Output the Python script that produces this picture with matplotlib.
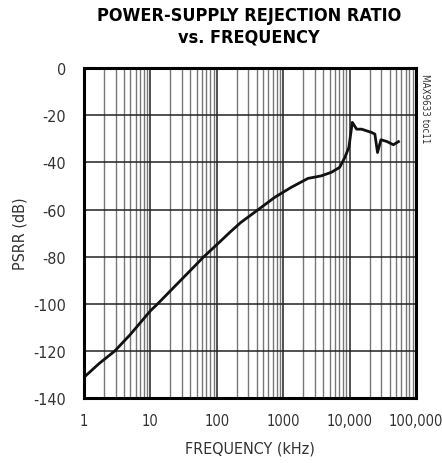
import matplotlib
matplotlib.use("Agg")
import matplotlib.pyplot as plt
from matplotlib.ticker import FixedLocator, NullFormatter

plt.rcParams['font.family'] = ['DejaVu Sans']
plt.rcParams['font.stretch'] = 'condensed'
plt.rcParams['axes.unicode_minus'] = False

# PSRR curve
freq_khz = [1.0, 1.7, 2.92, 5, 10, 12.9, 64, 102, 160, 230, 423, 740, 1320, 2360,
            3770, 5330, 7100, 8500, 9780, 11000, 12800, 15200, 21500, 24100,
            26400, 29700, 36300, 45700, 54600]
psrr_db = [-131.2, -125.3, -120, -113, -103, -100, -80, -74.7, -69.5, -65.5, -60,
           -54.9, -50.6, -46.8, -45.7, -44.2, -42.1, -37.9, -33.6, -23.0, -25.9,
           -25.9, -27.3, -28.0, -35.8, -30.4, -31.1, -32.5, -31.2]

x_ticks = [1, 10, 100, 1000, 10000, 100000]
x_labels = ["1", "10", "100", "1000", "10,000", "100,000"]
y_ticks = [0, -20, -40, -60, -80, -100, -120, -140]

fig = plt.figure(figsize=(4.42, 4.64), dpi=100)
ax = fig.add_axes([0.190, 0.140, 0.751, 0.711])

ax.set_xscale("log")
ax.set_xlim(1, 100000)
ax.set_ylim(-140, 0)

# grid: dark decades and 20 dB lines, grey minor lines
minor = [m * 10 ** d for d in range(5) for m in range(2, 10)]
ax.xaxis.set_major_locator(FixedLocator(x_ticks))
ax.xaxis.set_minor_locator(FixedLocator(minor))
ax.xaxis.set_minor_formatter(NullFormatter())
ax.set_xticklabels(x_labels)
ax.set_yticks(y_ticks)
ax.grid(True, which="major", color="#222222", linewidth=1.1)
ax.grid(True, which="minor", axis="x", color="#777777", linewidth=1.0)
ax.tick_params(which="both", length=0)
ax.tick_params(axis="x", labelsize=10.5, pad=11, colors="#333333")
ax.tick_params(axis="y", labelsize=11.5, pad=13, colors="#333333")

ax.plot(freq_khz, psrr_db, color="#111111", linewidth=2.0)

for s in ax.spines.values():
    s.set_linewidth(2.2)

ax.set_xlabel("FREQUENCY (kHz)", fontsize=11.5, labelpad=9, color="#333333")
ax.set_ylabel("PSRR (dB)", fontsize=11.5, labelpad=4, color="#333333")

fig.text(0.563, 0.985, "POWER-SUPPLY REJECTION RATIO\nvs. FREQUENCY",
         ha="center", va="top", fontsize=13, fontweight="bold", linespacing=1.25)
fig.text(0.962, 0.84, "MAX9633 toc11", rotation=270, ha="center", va="top",
         fontsize=7, color="#333333")

fig.savefig("out.png", dpi=100)
